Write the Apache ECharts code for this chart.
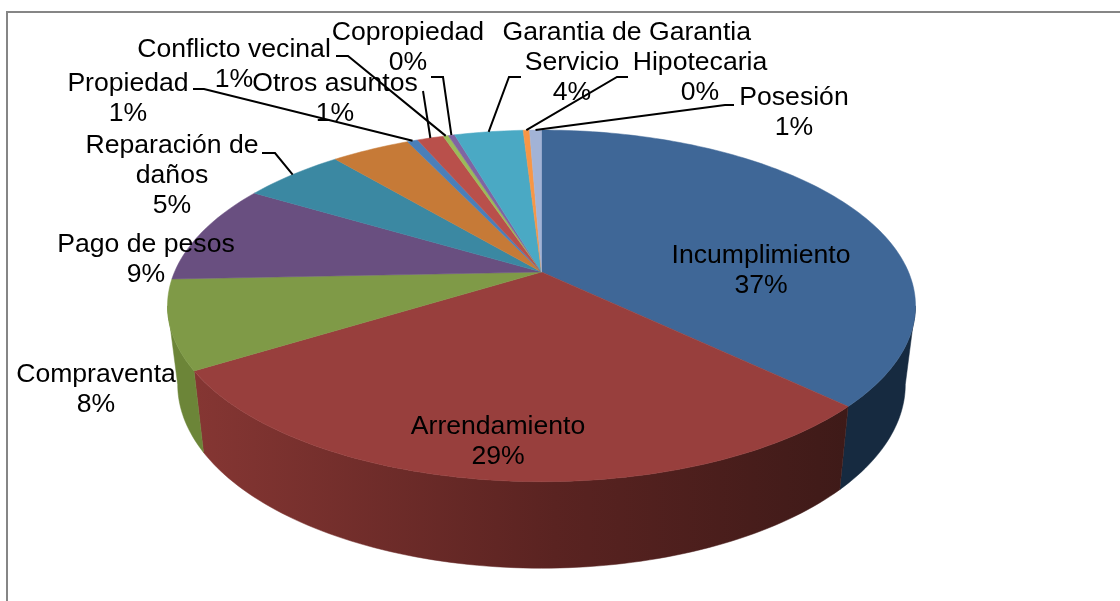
<!DOCTYPE html>
<html>
<head>
<meta charset="utf-8">
<style>
  html, body { margin: 0; padding: 0; background: #fff; }
  #chart { width: 1120px; height: 601px; }
</style>
<script src="https://cdn.jsdelivr.net/npm/echarts@6/dist/echarts.min.js"></script>
</head>
<body>
<div id="chart"></div>
<script>
// datos (la rebanada naranja no tiene etiqueta en el original)
const categories = ['Incumplimiento', 'Arrendamiento', 'Compraventa', 'Pago de pesos', 'Reparación de\ndaños', '', 'Propiedad', 'Otros asuntos', 'Conflicto vecinal', 'Copropiedad', 'Garantia de\nServicio', 'Garantia\nHipotecaria', 'Posesión']
const values = [37.1, 29.1, 8.15, 9.2, 5.3, 4.1, 0.55, 1.37, 0.27, 0.33, 3.58, 0.33, 0.62]
const percentLabels = ['37%', '29%', '8%', '9%', '5%', '', '1%', '1%', '1%', '0%', '4%', '0%', '1%']

// colores
const topColors = ['#3f6797', '#983f3d', '#7f9a47', '#694f80', '#3b88a2', '#c67a37', '#4a7fb9', '#b9504b', '#9bbb59', '#8064a2', '#4aa9c4', '#f79646', '#a2b3d6']
const sideColors = {
  0: '#162a40',
  1: { stops: [[0, '#853633'], [0.55, '#5a2321'], [1, '#3e1a18']] },
  2: '#6c8538'
}

// posicion del texto [x, y del centro del bloque]
const labelPos = [[761, 271], [498, 442], [96, 390], [146, 260], [172, 176], null, [128, 99], [335, 99], [234, 65], [408, 48], [572, 63], [700, 63], [794, 113]]
// codo de cada linea guia [inicio, codo]; null = sin linea
const leaderPos = [null, null, null, null, [[262, 153], [275, 153]], null, [[193, 89], [204, 89]], [[423, 91]], [[336, 56], [348, 56]], [[431, 77], [443, 77]], [[521, 77], [509, 77]], [[628, 77], [617, 77]], [[734, 105], [725, 105]]]

// proyeccion en perspectiva del disco
const cx = 541.5
const k = 0.1925
const topPlane = { a: 367, b: 169.3, y0: 272 }
const bottomPlane = { a: 357, b: 177, y0: 349 }
const TOTAL = values.reduce((s, v) => s + v, 0)

const project = (plane, pct) => {
  const t = (pct / TOTAL) * 2 * Math.PI // horario desde arriba
  const u = Math.sin(t)
  const v = -Math.cos(t)
  const d = 1 - k * v
  return [cx + (plane.a * u) / d, plane.y0 + (plane.b * v) / d]
}

const arc = (plane, from, to) => {
  const n = Math.max(2, Math.ceil(Math.abs(to - from) * 3))
  const pts = []
  for (let i = 0; i <= n; i++) pts.push(project(plane, from + ((to - from) * i) / n))
  return pts
}

// tramo frontal visible del lateral, en % (donde la silueta es tangente)
const tangent = (Math.asin(k) / (2 * Math.PI)) * TOTAL
const frontFrom = 25 + tangent
const frontTo = 75 - tangent

let acc = 0
const sliceData = values.map((v) => {
  const row = [v, acc]
  acc += v
  return row
})

const sideColor = (i) => {
  const c = sideColors[i]
  if (!c || typeof c === 'string') return c || topColors[i]
  return new echarts.graphic.LinearGradient(195, 0, 850, 0, c.stops.map(([offset, color]) => ({ offset, color })), true)
}

const renderSide = (params, api) => {
  const from = Math.max(api.value(1), frontFrom)
  const to = Math.min(api.value(1) + api.value(0), frontTo)
  if (to <= from) return null
  const points = arc(topPlane, from, to).concat(arc(bottomPlane, to, from))
  return { type: 'polygon', shape: { points }, style: { fill: sideColor(params.dataIndex), stroke: sideColor(params.dataIndex), lineWidth: 0.5 } }
}

const renderTop = (params, api) => {
  const from = api.value(1)
  const to = from + api.value(0)
  const points = [[cx, topPlane.y0]].concat(arc(topPlane, from, to))
  const color = topColors[params.dataIndex]
  return { type: 'polygon', shape: { points }, style: { fill: color, stroke: color, lineWidth: 0.5 } }
}

const renderLeader = (params, api) => {
  const stub = leaderPos[params.dataIndex]
  if (!stub) return null
  const end = project(topPlane, api.value(1) + api.value(0) / 2)
  return { type: 'polyline', shape: { points: stub.concat([end]) }, style: { fill: null, stroke: '#000', lineWidth: 2 } }
}

const renderLabel = (params, api) => {
  const pos = labelPos[params.dataIndex]
  if (!pos) return null
  return {
    type: 'text',
    x: pos[0],
    y: pos[1],
    style: {
      text: categories[params.dataIndex] + '\n' + percentLabels[params.dataIndex],
      fontFamily: '"Liberation Sans", Arial, sans-serif',
      fontSize: 26.6,
      lineHeight: 30,
      fill: '#000',
      align: 'center',
      verticalAlign: 'middle'
    }
  }
}

const makeSeries = (renderItem, z) => ({ type: 'custom', coordinateSystem: 'none', silent: true, animation: false, clip: false, z, data: sliceData, renderItem })

const chart = echarts.init(document.getElementById('chart'), null, { renderer: 'canvas' })
chart.setOption({
  animation: false,
  backgroundColor: '#fff',
  // el marco solo se ve arriba y a la izquierda
  graphic: [{
    type: 'polyline',
    shape: { points: [[7, 601], [7, 12], [1120, 12]] },
    style: { fill: null, stroke: '#868686', lineWidth: 2 },
    z: 0
  }],
  series: [
    makeSeries(renderSide, 1),
    makeSeries(renderTop, 2),
    makeSeries(renderLeader, 3),
    makeSeries(renderLabel, 4)
  ]
})
</script>
</body>
</html>
